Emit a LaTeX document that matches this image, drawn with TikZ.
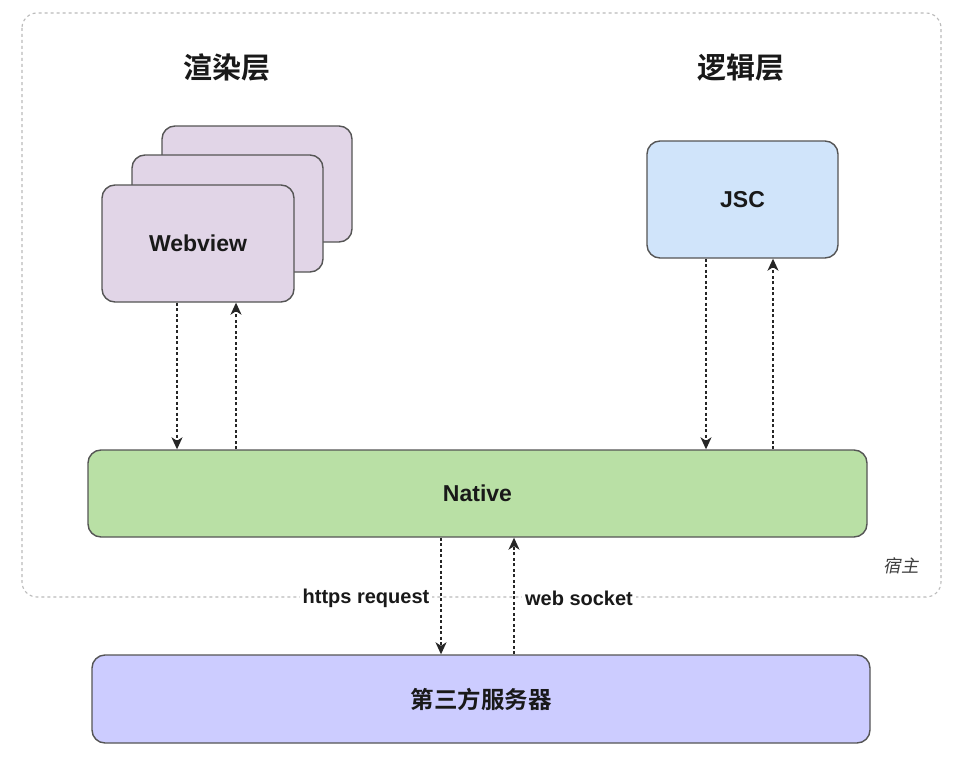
\documentclass[tikz,border=0pt]{standalone}
\usepackage{fontspec}
\setmainfont{Liberation Sans}
\newfontfamily\cjk{Noto Sans CJK SC}[BoldFont=* Bold]
\newfontfamily\cjkslant{Noto Sans CJK SC}[FakeSlant=0.2]
\usetikzlibrary{arrows.meta}
\usetikzlibrary{positioning}
\definecolor{wvfill}{HTML}{E1D5E7}
\definecolor{jscfill}{HTML}{D0E4FA}
\definecolor{natfill}{HTML}{B9E0A5}
\definecolor{srvfill}{HTML}{CCCCFF}
\definecolor{boxline}{HTML}{555555}
\definecolor{hostline}{HTML}{BBBBBB}
\tikzset{
	layer/.style={draw=boxline, line width=1.4pt, rounded corners=13pt, inner sep=0pt,
		font=\fontsize{23}{27}\selectfont\bfseries, text=black!90},
	flow/.style={dash pattern=on 3pt off 2.5pt, line width=1.3pt, black!85,
		-{Stealth[length=12pt, width=11pt, inset=3.5pt]}},
	title/.style={font=\cjk\fontsize{29}{32}\selectfont\bfseries, text=black!90},
	tag/.style={font=\fontsize{20}{24}\selectfont\bfseries, fill=white, inner sep=3pt, text=black!90}
}

\begin{document}
\begin{tikzpicture}[x=1pt, y=-1pt]
	\useasboundingbox[fill=white] (0,0) rectangle (961,760);
	% host frame
	\draw [hostline, line width=1.1pt, dash pattern=on 3pt off 3pt, rounded corners=15pt] (22,13) rectangle (941,597);
	\node [font=\cjkslant\fontsize{17.5}{21}\selectfont, text=black!75] (host) at (901,566) {宿主};
	% titles
	\node [title] (t1) at (227,68) {渲染层};
	\node [title] (t2) at (741,68) {逻辑层};
	% boxes
	\node [layer, fill=wvfill, minimum width=190pt, minimum height=116pt] (wv3) at (257,184) {};
	\node [layer, fill=wvfill, minimum width=191pt, minimum height=117pt] (wv2) at (227.5,213.5) {};
	\node [layer, fill=wvfill, minimum width=192pt, minimum height=117pt] (wv) at (198,243.5) {Webview};
	\node [layer, fill=jscfill, minimum width=191pt, minimum height=117pt] (jsc) at (742.5,199.5) {JSC};
	\node [layer, fill=natfill, minimum width=779pt, minimum height=87pt] (nat) at (477.5,493.5) {Native};
	\node [layer, fill=srvfill, minimum width=778pt, minimum height=88pt, font=\cjk\fontsize{23.5}{27}\selectfont\bfseries] (srv) at (481,699) {第三方服务器};
	% links
	\draw [flow] ([xshift=-21]wv.south) to ([xshift=-21]wv.south |- nat.north);
	\draw [flow] ([xshift=38]wv.south |- nat.north) to ([xshift=38]wv.south);
	\draw [flow] ([xshift=-36.5]jsc.south) to ([xshift=-36.5]jsc.south |- nat.north);
	\draw [flow] ([xshift=30.5]jsc.south |- nat.north) to ([xshift=30.5]jsc.south);
	\draw [flow] ([xshift=-36.5]nat.south) to ([xshift=-36.5]nat.south |- srv.north);
	\draw [flow] ([xshift=36.5]nat.south |- srv.north) to ([xshift=36.5]nat.south);
	\node [tag] (l1) at (366,598) {https request};
	\node [tag] (l2) at (579,598) {web socket};
\end{tikzpicture}
\end{document}
